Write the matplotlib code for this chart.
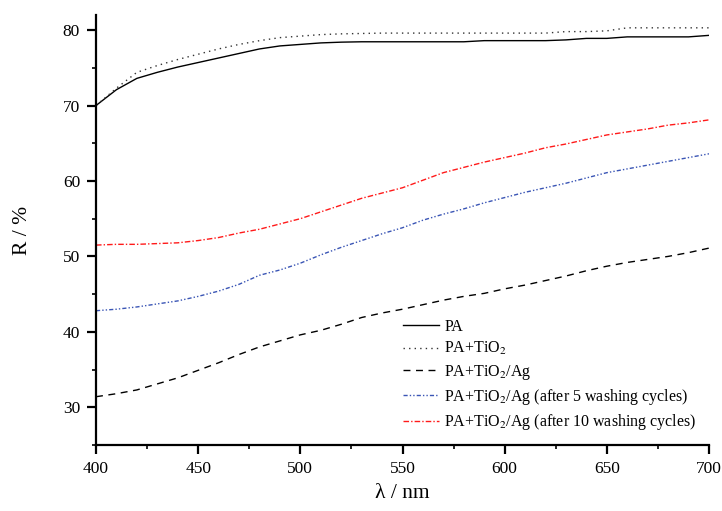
import matplotlib
matplotlib.use("Agg")
import matplotlib.pyplot as plt
from matplotlib.ticker import MultipleLocator

wavelength = [400, 410, 420, 430, 440, 450, 460, 470, 480, 490, 500, 510, 520, 530, 540,
              550, 560, 570, 580, 590, 600, 610, 620, 630, 640, 650, 660, 670, 680, 690, 700]

pa = [70.0, 72.1, 73.6, 74.4, 75.1, 75.7, 76.3, 76.9, 77.5, 77.9, 78.1, 78.3, 78.4, 78.45, 78.45,
      78.45, 78.45, 78.45, 78.45, 78.6, 78.6, 78.6, 78.6, 78.7, 78.9, 78.9, 79.1, 79.1, 79.1, 79.1, 79.3]
pa_tio2 = [70.0, 72.3, 74.4, 75.3, 76.1, 76.8, 77.5, 78.1, 78.6, 79.0, 79.2, 79.4, 79.5, 79.55, 79.6,
           79.6, 79.6, 79.6, 79.6, 79.6, 79.6, 79.6, 79.6, 79.8, 79.8, 79.9, 80.3, 80.3, 80.3, 80.3, 80.3]
pa_tio2_ag = [31.4, 31.8, 32.3, 33.1, 33.9, 34.9, 35.9, 37.0, 38.0, 38.8, 39.6, 40.2, 41.0, 41.9, 42.5,
              43.0, 43.6, 44.2, 44.7, 45.1, 45.7, 46.2, 46.8, 47.4, 48.1, 48.7, 49.2, 49.6, 50.0, 50.5, 51.1]
after5 = [42.8, 43.0, 43.3, 43.7, 44.1, 44.7, 45.4, 46.3, 47.5, 48.2, 49.1, 50.2, 51.2, 52.1, 53.0,
          53.8, 54.8, 55.6, 56.3, 57.1, 57.8, 58.5, 59.1, 59.7, 60.4, 61.1, 61.6, 62.1, 62.6, 63.1, 63.6]
after10 = [51.5, 51.6, 51.6, 51.7, 51.8, 52.1, 52.5, 53.1, 53.6, 54.3, 55.0, 55.9, 56.8, 57.7, 58.4,
           59.1, 60.1, 61.1, 61.8, 62.5, 63.1, 63.7, 64.4, 64.9, 65.5, 66.1, 66.5, 66.9, 67.4, 67.7, 68.1]

labels = ["PA", "PA+TiO$_2$", "PA+TiO$_2$/Ag",
          "PA+TiO$_2$/Ag (after 5 washing cycles)",
          "PA+TiO$_2$/Ag (after 10 washing cycles)"]

plt.rcParams['font.family'] = ['Liberation Serif', 'DejaVu Serif']
plt.rcParams['mathtext.fontset'] = 'stix'

fig = plt.figure(figsize=(7.22, 5.11), dpi=100)
ax = fig.add_axes([96/722, 66/511, 613/722, 430/511])

ax.plot(wavelength, pa, color='black', lw=1.0, ls='-', label=labels[0])
ax.plot(wavelength, pa_tio2, color='#333333', lw=1.0, ls=(0, (1, 3)), label=labels[1])
ax.plot(wavelength, pa_tio2_ag, color='black', lw=1.0, ls=(0, (5, 4)), label=labels[2])
ax.plot(wavelength, after5, color='#3a55b5', lw=1.0, ls=(0, (3, 1.5, 1, 1.5, 1, 1.5)), label=labels[3])
ax.plot(wavelength, after10, color='#ff1a1a', lw=1.0, ls=(0, (4, 1.5, 1, 1.5)), label=labels[4])

ax.set_xlim(400, 700)
ax.set_ylim(25, 82)
ax.xaxis.set_major_locator(MultipleLocator(50))
ax.xaxis.set_minor_locator(MultipleLocator(25))
ax.yaxis.set_minor_locator(MultipleLocator(5))
ax.set_yticks([30, 40, 50, 60, 70, 80])

for s in ['top', 'right']:
    ax.spines[s].set_visible(False)
for s in ['left', 'bottom']:
    ax.spines[s].set_linewidth(1.6)

ax.tick_params(axis='both', which='major', direction='out', length=6.5, width=1.6,
               labelsize=12.5, pad=5)
ax.tick_params(axis='both', which='minor', direction='out', length=3.2, width=1.2)

ax.set_xlabel('λ / nm', fontsize=15.5)
ax.set_ylabel('R / %', fontsize=15.5)
ax.xaxis.set_label_coords(0.5, -0.09)
ax.yaxis.set_label_coords(-0.105, 0.5)

leg = ax.legend(loc='lower right', frameon=False, fontsize=11.5, handlelength=2.2,
                handletextpad=0.35, labelspacing=0.33, borderaxespad=0.0,
                bbox_to_anchor=(0.99, 0.015))

fig.savefig('out.png', dpi=100)
